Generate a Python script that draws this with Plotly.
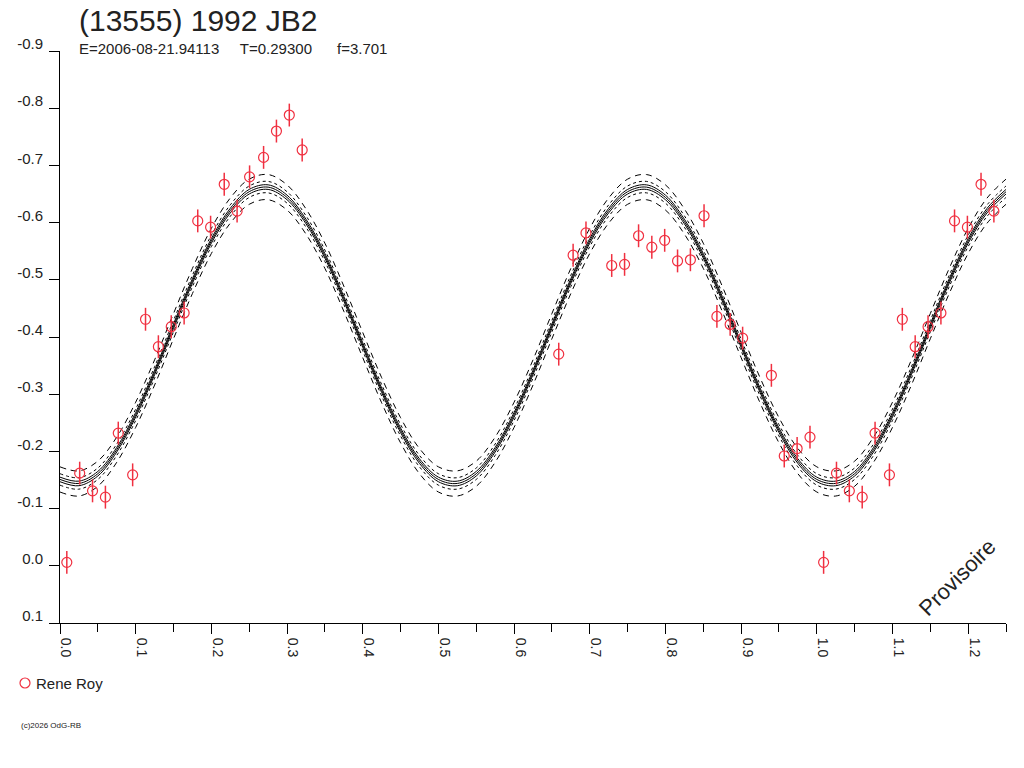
import plotly.graph_objects as go

phase = [0.009, 0.026, 0.043, 0.060, 0.077, 0.096, 0.113, 0.130, 0.147, 0.164,
         0.182, 0.199, 0.217, 0.234, 0.2505, 0.269, 0.286, 0.303, 0.320,
         0.659, 0.678, 0.695, 0.729, 0.746, 0.7645, 0.782, 0.799, 0.816,
         0.833, 0.851, 0.868, 0.8855, 0.902, 0.940, 0.957, 0.974, 0.991]
mag = [-0.006, -0.162, -0.131, -0.120, -0.232, -0.159, -0.431, -0.383, -0.418, -0.442,
       -0.603, -0.592, -0.667, -0.620, -0.680, -0.714, -0.760, -0.788, -0.727,
       -0.370, -0.543, -0.582, -0.525, -0.527, -0.577, -0.557, -0.569, -0.533,
       -0.535, -0.612, -0.436, -0.422, -0.398, -0.333, -0.192, -0.205, -0.225]
mag_err = 0.02

# fitted curve, read every 0.025 in phase
fit_phase = [0.000, 0.025, 0.050, 0.075, 0.100, 0.125, 0.150, 0.175, 0.200, 0.225,
             0.250, 0.275, 0.300, 0.325, 0.350, 0.375, 0.400, 0.425, 0.450, 0.475,
             0.500, 0.525, 0.550, 0.575, 0.600, 0.625, 0.650, 0.675, 0.700, 0.725,
             0.750, 0.775, 0.800, 0.825, 0.850, 0.875, 0.900, 0.925, 0.950, 0.975,
             1.000, 1.025, 1.050, 1.075, 1.100, 1.125, 1.150, 1.175, 1.200, 1.225,
             1.250]
fit_mag = [-0.151, -0.144, -0.161, -0.203, -0.264, -0.338, -0.419, -0.498, -0.568, -0.621,
           -0.654, -0.662, -0.644, -0.602, -0.542, -0.467, -0.386, -0.307, -0.237, -0.183,
           -0.151, -0.144, -0.161, -0.203, -0.264, -0.338, -0.419, -0.498, -0.568, -0.621,
           -0.654, -0.662, -0.644, -0.602, -0.542, -0.467, -0.386, -0.307, -0.237, -0.183,
           -0.151, -0.144, -0.161, -0.203, -0.264, -0.338, -0.419, -0.498, -0.568, -0.621,
           -0.654]
# half widths of the envelopes around the fit
band_inner = 0.004
band_mid = 0.010
band_outer = 0.022

y_ticks = [-0.9, -0.8, -0.7, -0.6, -0.5, -0.4, -0.3, -0.2, -0.1, 0.0, 0.1]
y_labels = ["-0.9", "-0.8", "-0.7", "-0.6", "-0.5", "-0.4", "-0.3", "-0.2", "-0.1", "0.0", "0.1"]

title = "(13555) 1992 JB2"
subtitle = "E=2006-08-21.94113     T=0.29300      f=3.701"
observer = "Rene Roy"

red = "#f03040"
txt = "#222222"
font = "Liberation Sans"

# points past phase 1 are the same measurements repeated
ph_all = phase + [p + 1 for p in phase if p + 1 <= 1.25]
mag_all = mag + [m for p, m in zip(phase, mag) if p + 1 <= 1.25]

fig = go.Figure()

envelopes = [(band_outer, "6px,5px"), (band_mid, "3px,3px"), (band_inner, "solid")]
for w, dash in envelopes:
    for sign in (1, -1):
        fig.add_trace(go.Scatter(
            x=fit_phase, y=[v + sign * w for v in fit_mag],
            mode="lines", line=dict(color="black", width=1, dash=dash, shape="spline"),
            showlegend=False, hoverinfo="skip"))

fig.add_trace(go.Scatter(
    x=fit_phase, y=fit_mag, mode="lines",
    line=dict(color="black", width=1, shape="spline"),
    showlegend=False))

fig.add_trace(go.Scatter(
    x=ph_all, y=mag_all, mode="markers", name=observer, showlegend=False,
    marker=dict(symbol="circle-open", size=10, color=red, line=dict(width=1.2, color=red)),
    error_y=dict(type="constant", value=mag_err, thickness=1.5, width=0, color=red)))

# pixel helpers relative to the plot area (x0 at 60 px, y0 at 623 px)
def px(x):
    return (x - 60) / 946.0

def py(y):
    return (623 - y) / 572.0

fig.add_annotation(x=px(77), y=py(21), xref="paper", yref="paper", text=title,
                   showarrow=False, xanchor="left", yanchor="middle",
                   font=dict(size=30, color=txt, family=font))
fig.add_annotation(x=px(77), y=py(48), xref="paper", yref="paper", text=subtitle,
                   showarrow=False, xanchor="left", yanchor="middle",
                   font=dict(size=15, color=txt, family=font))
fig.add_annotation(x=px(957), y=py(577), xref="paper", yref="paper", text="Provisoire",
                   showarrow=False, textangle=-45, xanchor="center", yanchor="middle",
                   font=dict(size=22, color=txt, family=font))
fig.add_annotation(x=px(19), y=py(725), xref="paper", yref="paper", text="(c)2026 OdG-RB",
                   showarrow=False, xanchor="left", yanchor="middle",
                   font=dict(size=8, color=txt, family=font))

# legend: observer symbol and name
fig.add_shape(type="circle", xref="paper", yref="paper",
              xsizemode="pixel", ysizemode="pixel",
              xanchor=px(25), yanchor=py(683), x0=-5, x1=5, y0=-5, y1=5,
              line=dict(color=red, width=1.2))
fig.add_annotation(x=px(34), y=py(683), xref="paper", yref="paper", text=observer,
                   showarrow=False, xanchor="left", yanchor="middle",
                   font=dict(size=15, color=txt, family=font))

fig.update_xaxes(
    range=[0, 1.25], dtick=0.1, tick0=0, tickformat=".1f",
    ticks="outside", ticklen=10, tickcolor="black", tickangle=90,
    ticklabelshift=6, ticklabelstandoff=1,
    minor=dict(dtick=0.05, ticks="outside", ticklen=8, tickcolor="black"),
    showline=True, linecolor="black", linewidth=1, showgrid=False, zeroline=False,
    automargin=False,
    tickfont=dict(size=14, color=txt, family=font))
fig.update_yaxes(
    range=[0.1, -0.9], tickvals=y_ticks, ticktext=y_labels,
    ticks="outside", ticklen=10, tickcolor="black", ticklabelshift=7, ticklabelstandoff=3,
    showline=True, linecolor="black", linewidth=1, showgrid=False, zeroline=False,
    automargin=False,
    tickfont=dict(size=15, color=txt, family=font))

fig.update_layout(
    width=1024, height=768,
    margin=dict(l=60, r=18, t=51, b=145, autoexpand=False),
    paper_bgcolor="white", plot_bgcolor="white",
    showlegend=False)

# drop the default page margin so the figure sits at the window corner
fig.write_html("out.html", config={"displayModeBar": False},
               post_script="document.body.style.margin='0';")
